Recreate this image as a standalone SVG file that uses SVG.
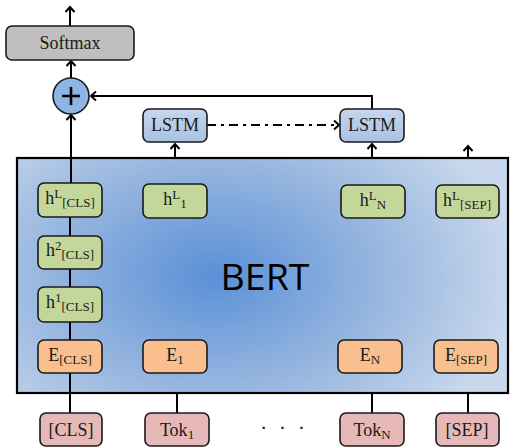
<svg xmlns="http://www.w3.org/2000/svg" width="510" height="447" viewBox="0 0 510 447">
<defs>
<radialGradient id="bert" cx="0.4" cy="0.5" r="0.62" gradientTransform="translate(0.4 0.5) scale(1 1.4) translate(-0.4 -0.5)">
<stop offset="0" stop-color="#5a90d7"/>
<stop offset="0.55" stop-color="#97b6df"/>
<stop offset="1" stop-color="#c9d8ec"/>
</radialGradient>
<linearGradient id="lstm" x1="0" y1="0" x2="0" y2="1">
<stop offset="0" stop-color="#c6d6ec"/>
<stop offset="1" stop-color="#a9c2e3"/>
</linearGradient>
<marker id="ah" markerUnits="userSpaceOnUse" markerWidth="14" markerHeight="14" viewBox="-8 -7 10 14" refX="0" refY="0" orient="auto">
<path d="M-5,-4.5 L0,0 L-5,4.5" fill="none" stroke="#000" stroke-width="2"/>
</marker>
</defs>
<style>
.n{stroke:#1a1a1a;stroke-width:1.6}
.g{fill:#c4d79b}
.o{fill:#f9bf8f}
.p{fill:#e6b9b8}
.l{fill:url(#lstm)}
.t{font-family:"Liberation Serif","Times New Roman",serif;font-size:18px;fill:#1a1a1a;text-anchor:middle}
.s{font-size:13px}
.c{fill:none;stroke:#000;stroke-width:2}
</style>
<rect x="17" y="158" width="491" height="235" fill="url(#bert)" stroke="#000" stroke-width="2.2"/>
<text x="265" y="290" font-family="'Open Sans','Liberation Sans',sans-serif" font-size="36" text-anchor="middle" textLength="89" lengthAdjust="spacingAndGlyphs" fill="#000">BERT</text>
<g id="connectors">
<line class="c" x1="70" y1="26" x2="70" y2="7" marker-end="url(#ah)"/>
<line class="c" x1="71" y1="79" x2="71" y2="61" marker-end="url(#ah)"/>
<line class="c" x1="71" y1="183" x2="71" y2="115" marker-end="url(#ah)"/>
<line class="c" x1="70" y1="217" x2="70" y2="236"/>
<line class="c" x1="70" y1="269" x2="70" y2="287"/>
<line class="c" x1="70" y1="322" x2="70" y2="340"/>
<line class="c" x1="70" y1="373" x2="70" y2="413"/>
<path class="c" d="M372,109 V96 H91" marker-end="url(#ah)"/>
<line class="c" x1="207" y1="125" x2="339" y2="125" stroke-dasharray="9,5,3,5" marker-end="url(#ah)"/>
<line class="c" x1="175" y1="158" x2="175" y2="144" marker-end="url(#ah)"/>
<line class="c" x1="372" y1="158" x2="372" y2="144" marker-end="url(#ah)"/>
<line class="c" x1="468" y1="158" x2="468" y2="146" marker-end="url(#ah)"/>
<line class="c" x1="177" y1="393" x2="177" y2="413"/>
<line class="c" x1="372" y1="393" x2="372" y2="413"/>
<line class="c" x1="468" y1="393" x2="468" y2="413"/>
</g>
<g id="softmax"><rect class="n" x="6" y="26" width="128" height="34" rx="6" fill="#bfbfbf"/><text class="t" x="70" y="49">Softmax</text></g>
<g id="plus"><circle cx="71" cy="96" r="18" fill="#8db4e2" stroke="#1a1a1a" stroke-width="1.6"/><path d="M62,96 H80 M71,87 V105" stroke="#000" stroke-width="2.6"/></g>
<g id="lstm1"><rect class="n l" x="143" y="109" width="64" height="33" rx="6"/><text class="t" x="175" y="131" font-size="15.5">LSTM</text></g>
<g id="lstm2"><rect class="n l" x="340" y="109" width="64" height="33" rx="6"/><text class="t" x="372" y="131" font-size="15.5">LSTM</text></g>
<g id="hLcls"><rect class="n g" x="38" y="183" width="64" height="34" rx="6"/><text class="t" x="70" y="204">h<tspan class="s" dy="-6">L</tspan><tspan class="s" dy="9">[CLS]</tspan></text></g>
<g id="h2cls"><rect class="n g" x="38" y="236" width="64" height="33" rx="6"/><text class="t" x="70" y="256">h<tspan class="s" dy="-6">2</tspan><tspan class="s" dy="9">[CLS]</tspan></text></g>
<g id="h1cls"><rect class="n g" x="38" y="287" width="64" height="35" rx="6"/><text class="t" x="70" y="308">h<tspan class="s" dy="-6">1</tspan><tspan class="s" dy="9">[CLS]</tspan></text></g>
<g id="hL1"><rect class="n g" x="143" y="184" width="64" height="34" rx="6"/><text class="t" x="175" y="205">h<tspan class="s" dy="-6">L</tspan><tspan class="s" dy="9">1</tspan></text></g>
<g id="hLN"><rect class="n g" x="341" y="185" width="64" height="33" rx="6"/><text class="t" x="373" y="206">h<tspan class="s" dy="-6">L</tspan><tspan class="s" dy="9">N</tspan></text></g>
<g id="hLsep"><rect class="n g" x="436" y="185" width="63" height="33" rx="6"/><text class="t" x="467" y="206">h<tspan class="s" dy="-6">L</tspan><tspan class="s" dy="9">[SEP]</tspan></text></g>
<g id="Ecls"><rect class="n o" x="38" y="340" width="64" height="33" rx="6"/><text class="t" x="70" y="361">E<tspan class="s" dy="3">[CLS]</tspan></text></g>
<g id="E1"><rect class="n o" x="143" y="340" width="64" height="33" rx="6"/><text class="t" x="175" y="361">E<tspan class="s" dy="3">1</tspan></text></g>
<g id="EN"><rect class="n o" x="338" y="340" width="64" height="33" rx="6"/><text class="t" x="370" y="361">E<tspan class="s" dy="3">N</tspan></text></g>
<g id="Esep"><rect class="n o" x="434" y="340" width="64" height="33" rx="6"/><text class="t" x="466" y="361">E<tspan class="s" dy="3">[SEP]</tspan></text></g>
<g id="tcls"><rect class="n p" x="40" y="413" width="62" height="33" rx="6"/><text class="t" x="71" y="436">[CLS]</text></g>
<g id="tok1"><rect class="n p" x="145" y="413" width="64" height="33" rx="6"/><text class="t" x="177" y="436">Tok<tspan class="s" dy="3">1</tspan></text></g>
<g id="tokN"><rect class="n p" x="340" y="413" width="64" height="33" rx="6"/><text class="t" x="372" y="436">Tok<tspan class="s" dy="3">N</tspan></text></g>
<g id="tsep"><rect class="n p" x="436" y="413" width="63" height="33" rx="6"/><text class="t" x="467" y="436">[SEP]</text></g>
<text x="260" y="435" font-family="'Liberation Serif',serif" font-size="22" letter-spacing="3" fill="#1a1a1a">· · ·</text>
</svg>
